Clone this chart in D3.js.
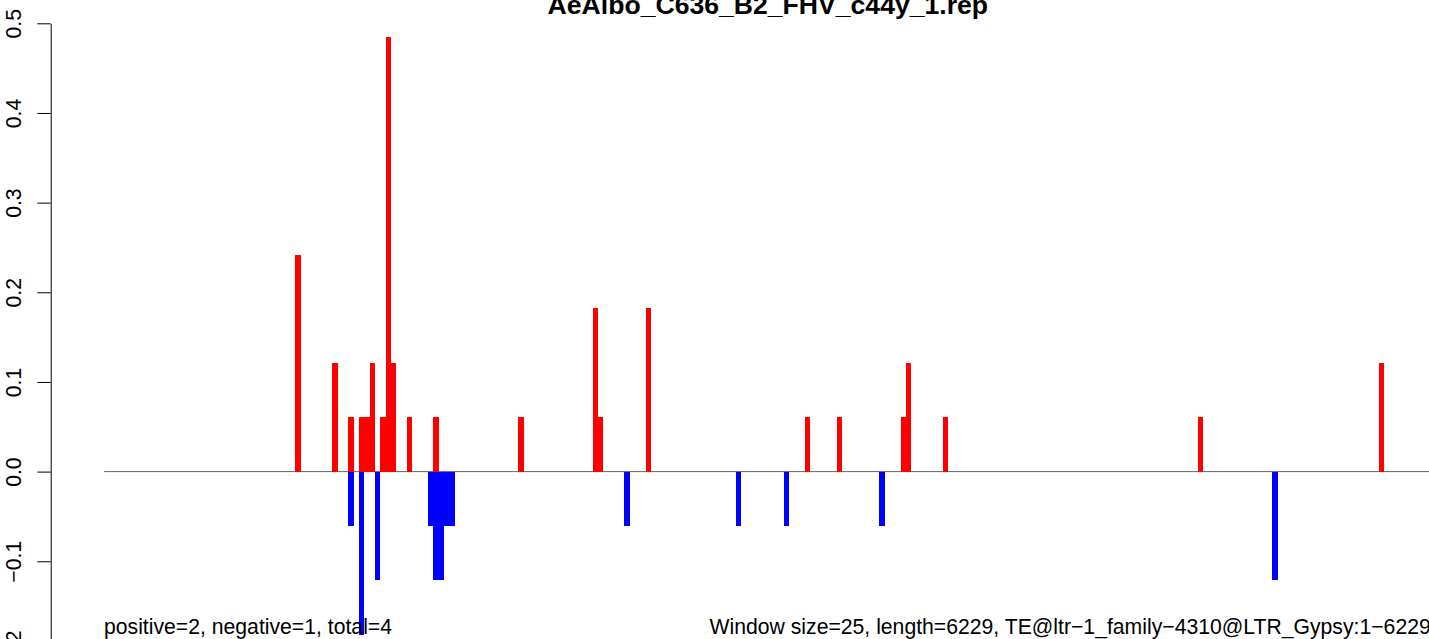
<!DOCTYPE html>
<html>
<head>
<meta charset="utf-8">
<script src="https://cdn.jsdelivr.net/npm/d3@7"></script>
<style>
  html, body { margin: 0; padding: 0; background: #fff; overflow: hidden; }
  svg { display: block; }
  text { font-family: "Liberation Sans", Arial, Helvetica, sans-serif; fill: #000; }
</style>
</head>
<body>
<svg id="chart" width="1429" height="639"></svg>
<script>
// ---- data (window index along the element, value per window) ----
const chartTitle = "AeAlbo_C636_B2_FHV_c44y_1.rep";
const nWindows = 250;
const posIndex = [36, 43, 46, 48, 49, 50, 52, 53, 54, 57, 62, 78, 92, 93, 102, 132, 138, 150, 151, 158, 206, 240];
const posValue = [0.242, 0.121, 0.061, 0.061, 0.061, 0.121, 0.061, 0.485, 0.121, 0.061, 0.061, 0.061, 0.182, 0.061, 0.182, 0.061, 0.061, 0.061, 0.121, 0.061, 0.061, 0.121];
const negIndex = [46, 48, 51, 61, 62, 63, 64, 65, 98, 119, 128, 146, 220];
const negValue = [-0.061, -0.182, -0.121, -0.061, -0.121, -0.121, -0.061, -0.061, -0.061, -0.061, -0.061, -0.061, -0.121];
const yTicks = [-0.2, -0.1, 0.0, 0.1, 0.2, 0.3, 0.4, 0.5];
const leftNote = "positive=2, negative=1, total=4";
const rightNote = "Window size=25, length=6229, TE@ltr\u22121_family\u22124310@LTR_Gypsy:1\u22126229";

// ---- layout ----
const svg = d3.select("#chart");
const x = d3.scaleLinear().domain([0, nWindows]).range([104.1, 104.1 + nWindows * 5.31]);
const y = d3.scaleLinear().domain([-0.2, 0.5]).range([471.6 + 0.2 * 896.6, 23.3]);

const pos = posIndex.map((i, k) => ({ i, v: posValue[k] }));
const neg = negIndex.map((i, k) => ({ i, v: negValue[k] }));

// baseline
svg.append("line")
  .attr("x1", x(0)).attr("x2", x(nWindows))
  .attr("y1", y(0)).attr("y2", y(0))
  .attr("stroke", "#666").attr("stroke-width", 1);

// positive bars
svg.append("g").attr("shape-rendering", "crispEdges")
  .selectAll("rect").data(pos).join("rect")
  .attr("x", d => x(d.i))
  .attr("width", d => x(d.i + 1) - x(d.i))
  .attr("y", d => y(d.v))
  .attr("height", d => y(0) - y(d.v))
  .attr("fill", "#ff0000");

// negative bars
svg.append("g").attr("shape-rendering", "crispEdges")
  .selectAll("rect").data(neg).join("rect")
  .attr("x", d => x(d.i))
  .attr("width", d => x(d.i + 1) - x(d.i))
  .attr("y", y(0))
  .attr("height", d => y(d.v) - y(0))
  .attr("fill", "#0000ff");

// y axis
const fmt = d => d.toFixed(1).replace("-", "\u2212");
const axisX = 50.7;
const yAxis = svg.append("g")
  .attr("transform", `translate(${axisX},0)`)
  .call(d3.axisLeft(y).tickValues(yTicks).tickSize(13.4).tickSizeOuter(0).tickFormat(fmt));
yAxis.select(".domain").attr("stroke", "#000").attr("stroke-width", 1);
yAxis.selectAll(".tick line").attr("stroke", "#000").attr("stroke-width", 1);
yAxis.selectAll(".tick text")
  .attr("x", null).attr("dy", null)
  .attr("transform", `translate(${20.5 - axisX},0) rotate(-90)`)
  .attr("text-anchor", "middle")
  .attr("font-size", "21.2px")
  .attr("font-family", "Liberation Sans, Arial, sans-serif")
  .attr("fill", "#000");

// title
svg.append("text")
  .attr("x", x(nWindows / 2)).attr("y", 13.5)
  .attr("text-anchor", "middle")
  .attr("font-size", "26.6px").attr("font-weight", "bold")
  .text(chartTitle);

// notes
svg.append("text").attr("x", 104).attr("y", 634)
  .attr("font-size", "21.2px").text(leftNote);
svg.append("text").attr("x", 709.5).attr("y", 634)
  .attr("font-size", "21.2px").text(rightNote);
</script>
</body>
</html>
